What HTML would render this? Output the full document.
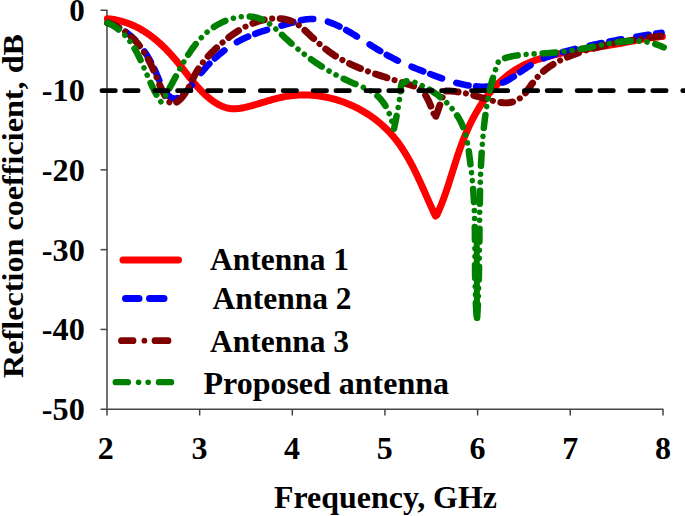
<!DOCTYPE html>
<html><head><meta charset="utf-8"><title>Reflection coefficient</title>
<style>
html,body{margin:0;padding:0;background:#fff;overflow:hidden}
body{width:685px;height:516px;position:relative;font-family:"Liberation Serif",serif}
</style></head><body>
<svg width="685" height="516" viewBox="0 0 685 516" style="position:absolute;left:0;top:0;display:block">
<defs><clipPath id="gc"><rect x="482" y="78" width="14" height="24"/></clipPath><path id="bp" d="M107.55,22.91 L109.04,23.36 L110.49,23.86 L111.93,24.39 L113.34,24.96 L114.73,25.57 L116.10,26.21 L117.45,26.88 L118.78,27.59 L120.08,28.33 L121.36,29.11 L122.62,29.91 L123.86,30.74 L125.08,31.61 L126.27,32.50 L127.45,33.42 L128.60,34.37 L129.73,35.35 L130.85,36.35 L131.94,37.37 L133.01,38.42 L134.06,39.49 L135.09,40.58 L136.10,41.70 L137.09,42.84 L138.06,43.99 L139.01,45.17 L139.94,46.36 L140.85,47.58 L141.74,48.80 L142.61,50.05 L143.46,51.31 L144.29,52.58 L145.10,53.87 L145.90,55.17 L146.67,56.48 L147.43,57.81 L148.17,59.14 L148.89,60.49 L149.59,61.84 L150.27,63.20 L150.93,64.57 L151.58,65.94 L152.22,67.33 L152.84,68.71 L153.45,70.10 L154.06,71.50 L154.66,72.90 L155.25,74.31 L155.84,75.72 L156.43,77.13 L157.02,78.54 L157.61,79.95 L158.20,81.37 L158.80,82.78 L159.41,84.20 L160.03,85.61 L160.66,87.03 L161.30,88.44 L161.96,89.85 L162.63,91.26 L163.33,92.66 L164.04,94.06 L164.77,95.45 L165.53,96.84 L166.32,98.20 L167.13,99.48 L167.98,100.65 L168.87,101.68 L169.79,102.52 L170.76,103.15 L171.78,103.52 L172.84,103.61 L173.94,103.44 L175.06,103.05 L176.19,102.47 L177.32,101.74 L178.42,100.89 L179.49,99.95 L180.52,98.95 L181.50,97.89 L182.45,96.78 L183.37,95.62 L184.25,94.41 L185.10,93.16 L185.93,91.88 L186.73,90.56 L187.51,89.21 L188.27,87.84 L189.02,86.45 L189.76,85.04 L190.49,83.62 L191.21,82.18 L191.93,80.74 L192.65,79.30 L193.38,77.87 L194.11,76.44 L194.84,75.02 L195.59,73.61 L196.35,72.23 L197.13,70.86 L197.93,69.52 L198.75,68.21 L199.60,66.93 L200.46,65.68 L201.35,64.45 L202.25,63.24 L203.17,62.05 L204.11,60.89 L205.06,59.74 L206.03,58.62 L207.02,57.51 L208.02,56.41 L209.03,55.33 L210.06,54.26 L211.10,53.20 L212.14,52.15 L213.20,51.11 L214.27,50.08 L215.35,49.05 L216.44,48.03 L217.53,47.01 L218.63,46.00 L219.74,45.00 L220.86,44.00 L221.99,43.01 L223.13,42.03 L224.28,41.05 L225.43,40.09 L226.60,39.14 L227.78,38.20 L228.96,37.28 L230.16,36.36 L231.37,35.46 L232.59,34.58 L233.82,33.71 L235.06,32.85 L236.31,32.02 L237.57,31.20 L238.85,30.40 L240.13,29.61 L241.43,28.85 L242.74,28.11 L244.06,27.38 L245.40,26.68 L246.75,26.00 L248.11,25.35 L249.48,24.72 L250.87,24.11 L252.27,23.53 L253.69,22.98 L255.11,22.45 L256.56,21.95 L258.01,21.47 L259.48,21.03 L260.97,20.62 L262.46,20.24 L263.96,19.89 L265.47,19.57 L266.98,19.30 L268.50,19.06 L270.02,18.86 L271.54,18.69 L273.06,18.58 L274.57,18.50 L276.09,18.47 L277.59,18.48 L279.09,18.54 L280.58,18.64 L282.06,18.80 L283.52,19.01 L284.97,19.27 L286.41,19.58 L287.83,19.95 L289.23,20.37 L290.61,20.86 L291.97,21.40 L293.30,22.00 L294.61,22.66 L295.89,23.39 L297.14,24.17 L298.37,25.01 L299.59,25.89 L300.78,26.82 L301.95,27.78 L303.12,28.77 L304.26,29.79 L305.40,30.83 L306.53,31.89 L307.66,32.95 L308.78,34.02 L309.89,35.09 L311.01,36.16 L312.13,37.21 L313.25,38.26 L314.37,39.31 L315.49,40.34 L316.62,41.36 L317.75,42.38 L318.89,43.38 L320.03,44.38 L321.18,45.36 L322.33,46.33 L323.49,47.29 L324.66,48.23 L325.83,49.17 L327.01,50.08 L328.21,50.99 L329.41,51.88 L330.63,52.75 L331.85,53.61 L333.09,54.44 L334.34,55.27 L335.60,56.07 L336.87,56.86 L338.15,57.64 L339.44,58.40 L340.74,59.14 L342.06,59.87 L343.38,60.58 L344.71,61.28 L346.05,61.97 L347.39,62.65 L348.75,63.31 L350.11,63.96 L351.48,64.59 L352.86,65.22 L354.24,65.83 L355.63,66.44 L357.02,67.03 L358.42,67.61 L359.83,68.18 L361.24,68.75 L362.65,69.30 L364.06,69.85 L365.48,70.39 L366.91,70.92 L368.33,71.44 L369.76,71.96 L371.19,72.47 L372.62,72.97 L374.05,73.47 L375.49,73.96 L376.92,74.44 L378.35,74.93 L379.78,75.40 L381.22,75.88 L382.65,76.35 L384.08,76.81 L385.51,77.27 L386.93,77.74 L388.36,78.19 L389.78,78.65 L391.21,79.10 L392.64,79.55 L394.06,80.00 L395.49,80.44 L396.91,80.88 L398.34,81.32 L399.76,81.76 L401.19,82.20 L402.62,82.64 L404.05,83.07 L405.48,83.50 L406.92,83.94 L408.35,84.37 L409.79,84.80 L411.23,85.22 L412.67,85.65 L414.12,86.08 L415.57,86.51 L417.02,86.93 L418.47,87.36 L419.93,87.78 L421.05,88.70 L422.03,89.95 L422.96,91.23 L423.86,92.54 L424.72,93.87 L425.55,95.23 L426.34,96.61 L427.10,98.00 L427.83,99.42 L428.53,100.85 L429.21,102.30 L429.85,103.76 L430.47,105.23 L431.06,106.72 L431.63,108.21 L432.18,109.71 L432.70,111.22 L433.21,112.73 L433.69,114.24 L434.15,115.76 L434.60,117.27 L435.03,118.78 L435.56,117.26 L436.11,115.71 L436.66,114.17 L437.21,112.62 L437.75,111.07 L438.29,109.52 L438.83,107.97 L439.37,106.42 L439.92,104.87 L440.46,103.32 L441.01,101.77 L441.56,100.23 L442.11,98.68 L442.68,97.14 L443.24,95.60 L443.82,94.06 L444.41,92.53 L445.00,91.00 L446.52,90.91 L448.02,90.96 L449.52,91.03 L451.02,91.14 L452.52,91.27 L454.02,91.42 L455.52,91.60 L457.01,91.80 L458.51,92.02 L460.00,92.27 L461.48,92.53 L462.97,92.82 L464.45,93.12 L465.92,93.44 L467.39,93.77 L468.86,94.12 L470.32,94.49 L471.78,94.86 L473.23,95.25 L474.67,95.65 L476.11,96.06 L477.55,96.48 L478.99,96.90 L480.42,97.32 L481.86,97.75 L483.30,98.17 L484.75,98.60 L486.20,99.02 L487.65,99.44 L489.12,99.85 L490.59,100.25 L492.07,100.64 L493.56,101.02 L495.07,101.38 L496.58,101.72 L498.09,102.03 L499.61,102.30 L501.13,102.52 L502.64,102.69 L504.15,102.80 L505.66,102.84 L507.15,102.81 L508.64,102.70 L510.10,102.50 L511.55,102.21 L512.98,101.83 L514.37,101.36 L515.73,100.80 L517.05,100.15 L518.31,99.41 L519.52,98.58 L520.68,97.68 L521.80,96.70 L522.87,95.66 L523.91,94.57 L524.92,93.42 L525.90,92.23 L526.86,91.00 L527.80,89.75 L528.73,88.47 L529.65,87.18 L530.57,85.89 L531.49,84.59 L532.42,83.31 L533.36,82.04 L534.32,80.79 L535.29,79.58 L536.29,78.39 L537.31,77.24 L538.36,76.12 L539.42,75.02 L540.50,73.96 L541.60,72.93 L542.73,71.93 L543.87,70.95 L545.02,70.00 L546.20,69.07 L547.39,68.18 L548.60,67.30 L549.82,66.45 L551.06,65.63 L552.32,64.82 L553.59,64.04 L554.87,63.28 L556.16,62.54 L557.47,61.83 L558.79,61.13 L560.12,60.45 L561.46,59.78 L562.81,59.14 L564.17,58.51 L565.55,57.90 L566.92,57.30 L568.31,56.72 L569.71,56.15 L571.11,55.59 L572.52,55.05 L573.93,54.52 L575.35,54.00 L576.78,53.49 L578.20,52.99 L579.64,52.50 L581.08,52.02 L582.52,51.55 L583.96,51.09 L585.41,50.64 L586.86,50.20 L588.32,49.76 L589.78,49.34 L591.24,48.92 L592.71,48.51 L594.18,48.11 L595.65,47.72 L597.13,47.34 L598.60,46.96 L600.09,46.59 L601.57,46.23 L603.05,45.88 L604.54,45.53 L606.03,45.19 L607.52,44.86 L609.01,44.53 L610.51,44.21 L612.00,43.89 L613.50,43.59 L615.00,43.28 L616.50,42.99 L618.00,42.69 L619.50,42.41 L621.00,42.13 L622.51,41.85 L624.01,41.58 L625.52,41.32 L627.02,41.05 L628.52,40.80 L630.03,40.54 L631.53,40.29 L633.04,40.05 L634.54,39.81 L636.04,39.57 L637.55,39.34 L639.05,39.10 L640.55,38.88 L642.05,38.65 L643.55,38.43 L645.05,38.21 L646.54,37.99 L648.04,37.78 L649.53,37.56 L651.02,37.35 L652.51,37.14 L654.00,36.93 L655.48,36.73 L656.97,36.52 L658.45,36.32 L659.93,36.11 L661.40,35.91 L662.88,35.71"/><path id="ga" d="M107.45,22.82 L108.95,23.51 L110.41,24.23 L111.83,25.00 L113.21,25.79 L114.55,26.62 L115.85,27.49 L117.12,28.38 L118.35,29.31 L119.55,30.27 L120.72,31.26 L121.85,32.27 L122.95,33.32 L124.02,34.39 L125.06,35.49 L126.07,36.61 L127.05,37.76 L128.01,38.93 L128.94,40.12 L129.85,41.34 L130.73,42.57 L131.59,43.83 L132.43,45.10 L133.25,46.39 L134.05,47.70 L134.84,49.02 L135.60,50.36 L136.35,51.71 L137.08,53.07 L137.80,54.45 L138.50,55.83 L139.20,57.23 L139.88,58.64 L140.55,60.05 L141.21,61.48 L141.86,62.91 L142.51,64.34 L143.15,65.78 L143.78,67.22 L144.41,68.67 L145.04,70.11 L145.66,71.56 L146.28,73.01 L146.90,74.46 L147.53,75.90 L148.15,77.34 L148.78,78.78 L149.41,80.21 L150.05,81.64 L150.69,83.06 L151.34,84.47 L151.99,85.88 L152.66,87.27 L153.33,88.66 L154.02,90.03 L154.72,91.39 L155.43,92.74 L156.15,94.08 L156.89,95.39 L157.65,96.70 L158.42,97.98 L159.21,99.25 L160.02,100.50 L160.85,101.73 L162.18,100.68 L162.95,99.45 L163.72,98.21 L164.47,96.96 L165.22,95.70 L165.97,94.43 L166.71,93.15 L167.44,91.86 L168.17,90.56 L168.90,89.25 L169.62,87.94 L170.34,86.62 L171.06,85.30 L171.78,83.97 L172.50,82.64 L173.21,81.30 L173.93,79.96 L174.65,78.62 L175.36,77.27 L176.08,75.93 L176.80,74.58 L177.53,73.23 L178.25,71.89 L178.99,70.54 L179.72,69.20 L180.46,67.86 L181.20,66.52 L181.95,65.19 L182.71,63.86 L183.47,62.54 L184.24,61.22 L185.02,59.91 L185.81,58.61 L186.60,57.31 L187.41,56.02 L188.22,54.74 L189.04,53.47 L189.88,52.21 L190.73,50.96 L191.58,49.72 L192.46,48.49 L193.34,47.28 L194.24,46.08 L195.15,44.89 L196.07,43.72 L197.01,42.56 L197.97,41.42 L198.94,40.29 L199.93,39.18 L200.93,38.09 L201.95,37.02 L203.00,35.97 L204.05,34.93 L205.13,33.92 L206.23,32.92 L207.35,31.95 L208.49,31.00 L209.65,30.07 L210.83,29.16 L212.03,28.28 L213.26,27.43 L214.51,26.59 L215.78,25.79 L217.08,25.01 L218.40,24.26 L219.75,23.53 L221.12,22.83 L222.51,22.17 L223.93,21.53 L225.37,20.92 L226.82,20.35 L228.29,19.81 L229.78,19.31 L231.27,18.85 L232.78,18.42 L234.30,18.03 L235.82,17.68 L237.35,17.37 L238.88,17.11 L240.41,16.89 L241.94,16.71 L243.47,16.58 L244.99,16.50 L246.51,16.46 L248.02,16.48 L249.52,16.54 L251.00,16.66 L252.48,16.83 L253.94,17.06 L255.38,17.34 L256.80,17.68 L258.20,18.08 L259.57,18.53 L260.93,19.05 L262.25,19.62 L263.56,20.25 L264.84,20.93 L266.10,21.66 L267.34,22.44 L268.57,23.26 L269.78,24.12 L270.97,25.01 L272.15,25.94 L273.31,26.89 L274.47,27.88 L275.62,28.88 L276.75,29.90 L277.89,30.94 L279.01,31.99 L280.14,33.05 L281.26,34.12 L282.37,35.19 L283.49,36.26 L284.61,37.32 L285.74,38.38 L286.87,39.43 L288.00,40.47 L289.13,41.50 L290.27,42.53 L291.41,43.55 L292.56,44.55 L293.71,45.55 L294.86,46.55 L296.02,47.53 L297.18,48.50 L298.35,49.47 L299.52,50.43 L300.69,51.38 L301.87,52.32 L303.06,53.26 L304.24,54.18 L305.43,55.10 L306.63,56.01 L307.83,56.91 L309.03,57.80 L310.24,58.68 L311.46,59.56 L312.68,60.43 L313.90,61.29 L315.13,62.14 L316.36,62.98 L317.60,63.81 L318.84,64.64 L320.09,65.45 L321.35,66.26 L322.61,67.06 L323.87,67.85 L325.14,68.64 L326.41,69.41 L327.69,70.18 L328.98,70.94 L330.27,71.68 L331.56,72.43 L332.86,73.16 L334.17,73.88 L335.48,74.60 L336.80,75.30 L338.13,76.00 L339.46,76.69 L340.79,77.37 L342.14,78.05 L343.48,78.71 L344.84,79.36 L346.20,80.01 L347.56,80.65 L348.94,81.28 L350.32,81.90 L351.70,82.51 L353.09,83.12 L354.49,83.71 L355.90,84.30 L357.31,84.88 L358.72,85.45 L360.13,86.03 L361.54,86.61 L362.94,87.20 L364.33,87.81 L365.70,88.43 L367.06,89.08 L368.40,89.76 L369.71,90.47 L370.99,91.21 L372.25,92.00 L373.47,92.82 L374.66,93.69 L375.82,94.59 L376.94,95.54 L378.03,96.52 L379.08,97.54 L380.10,98.61 L381.08,99.71 L382.03,100.86 L382.93,102.04 L383.80,103.26 L384.63,104.52 L385.42,105.81 L386.18,107.14 L386.90,108.49 L387.59,109.87 L388.24,111.28 L388.87,112.70 L389.46,114.14 L390.02,115.60 L390.55,117.07 L391.06,118.55 L391.53,120.04 L391.98,121.54 L392.41,123.03 L392.81,124.53 L393.19,126.02 L393.54,127.50 L393.88,128.98 L394.33,127.23 L394.65,125.65 L394.98,124.08 L395.30,122.51 L395.62,120.93 L395.94,119.35 L396.25,117.78 L396.56,116.20 L396.87,114.62 L397.17,113.04 L397.46,111.46 L397.75,109.88 L398.03,108.30 L398.31,106.72 L398.57,105.13 L398.83,103.54 L399.08,101.96 L399.33,100.37 L399.56,98.78 L399.78,97.19 L399.99,95.59 L400.19,94.00 L400.38,92.40 L400.55,90.81 L400.72,89.21 L400.86,87.60 L401.00,86.00 L401.73,84.23 L402.79,83.15 L403.91,82.31 L405.09,81.69 L406.31,81.27 L407.57,81.05 L408.87,80.99 L410.21,81.09 L411.57,81.32 L412.95,81.66 L414.35,82.11 L415.76,82.63 L417.18,83.22 L418.60,83.86 L420.01,84.53 L421.41,85.21 L422.80,85.91 L424.18,86.62 L425.55,87.35 L426.91,88.10 L428.26,88.86 L429.59,89.65 L430.91,90.44 L432.21,91.26 L433.50,92.10 L434.77,92.95 L436.03,93.83 L437.27,94.72 L438.49,95.63 L439.69,96.57 L440.88,97.52 L442.05,98.49 L443.19,99.47 L444.32,100.48 L445.43,101.50 L446.51,102.54 L447.58,103.61 L448.62,104.68 L449.64,105.78 L450.64,106.89 L451.61,108.02 L452.56,109.17 L453.49,110.33 L454.39,111.52 L455.26,112.71 L456.11,113.93 L456.93,115.16 L457.73,116.41 L458.50,117.67 L459.24,118.95 L459.95,120.25 L460.63,121.56 L461.29,122.89 L461.91,124.23 L462.50,125.59 L463.06,126.96 L463.59,128.35 L464.09,129.75 L464.56,131.17 L465.01,132.60 L465.42,134.04 L465.81,135.49 L466.18,136.95 L466.52,138.42 L466.85,139.90 L467.15,141.39 L467.44,142.89 L467.71,144.39 L467.97,145.89 L468.21,147.40 L468.44,148.92 L468.66,150.43 L468.88,151.95 L469.08,153.47 L469.28,154.98 L469.47,156.50 L469.66,158.02 L469.85,159.53 L470.04,161.04 L470.23,162.54 L470.42,164.04 L470.61,165.54 L470.79,167.04 L470.98,168.53 L471.16,170.03 L471.34,171.52 L471.52,173.01 L471.69,174.49 L471.86,175.98 L472.03,177.47 L472.19,178.96 L472.35,180.45 L472.50,181.94 L472.64,183.43 L472.78,184.92 L472.91,186.41 L473.03,187.91 L473.16,189.40 L473.27,190.90 L473.38,192.39 L473.49,193.89 L473.59,195.39 L473.68,196.89 L473.77,198.39 L473.86,199.89 L473.94,201.39 L474.02,202.89 L474.09,204.40 L474.16,205.90 L474.23,207.41 L474.29,208.91 L474.35,210.42 L474.40,211.92 L474.45,213.43 L474.50,214.94 L474.55,216.45 L474.59,217.95 L474.63,219.46 L474.66,220.97 L474.69,222.48 L474.72,223.99 L474.75,225.50 L474.78,227.01 L474.80,228.53 L474.82,230.04 L474.84,231.55 L474.86,233.06 L474.87,234.57 L474.89,236.09 L474.90,237.60 L474.91,239.11 L474.92,240.63 L474.93,242.14 L474.94,243.65 L474.94,245.17 L474.95,246.68 L474.96,248.19 L474.96,249.71 L474.97,251.22 L474.97,252.74 L474.98,254.25 L474.98,255.76 L474.99,257.28 L474.99,258.79 L475.00,260.30 L475.00,261.82 L475.01,263.33 L475.02,264.84 L475.02,266.35 L475.03,267.87 L475.04,269.38 L475.05,270.89 L475.07,272.40 L475.08,273.91 L475.10,275.42 L475.12,276.93 L475.14,278.44 L475.16,279.95 L475.18,281.46 L475.21,282.97 L475.24,284.48 L475.27,285.98 L475.30,287.49 L475.34,289.00 L475.38,290.50 L475.42,292.01 L475.46,293.51 L475.51,295.02 L475.56,296.52 L475.62,298.02 L475.68,299.52 L475.74,301.02 L475.81,302.52 L475.88,304.02 L475.95,305.52 L476.03,307.02 L476.12,308.51 L476.20,310.01 L476.30,311.50 L476.39,313.00 L476.50,314.49 L476.60,315.98 L476.72,317.47 L476.83,318.96"/><path id="gb" d="M477.07,318.94 L477.17,317.44 L477.27,315.95 L477.36,314.45 L477.46,312.96 L477.54,311.46 L477.63,309.96 L477.71,308.47 L477.79,306.97 L477.87,305.47 L477.94,303.97 L478.01,302.47 L478.08,300.97 L478.15,299.47 L478.21,297.97 L478.28,296.47 L478.33,294.97 L478.39,293.47 L478.45,291.97 L478.50,290.46 L478.55,288.96 L478.60,287.45 L478.64,285.95 L478.69,284.45 L478.73,282.94 L478.77,281.44 L478.81,279.93 L478.85,278.42 L478.88,276.92 L478.92,275.41 L478.95,273.90 L478.98,272.40 L479.01,270.89 L479.04,269.38 L479.07,267.87 L479.09,266.36 L479.12,264.85 L479.14,263.34 L479.16,261.83 L479.18,260.32 L479.20,258.81 L479.22,257.30 L479.24,255.79 L479.26,254.28 L479.28,252.77 L479.29,251.26 L479.31,249.75 L479.33,248.23 L479.34,246.72 L479.35,245.21 L479.37,243.70 L479.38,242.19 L479.39,240.67 L479.41,239.16 L479.42,237.65 L479.43,236.13 L479.45,234.62 L479.46,233.11 L479.47,231.59 L479.49,230.08 L479.50,228.57 L479.51,227.05 L479.53,225.54 L479.54,224.03 L479.56,222.51 L479.57,221.00 L479.59,219.48 L479.60,217.97 L479.62,216.46 L479.64,214.94 L479.66,213.43 L479.67,211.91 L479.69,210.40 L479.72,208.89 L479.74,207.37 L479.76,205.86 L479.79,204.34 L479.81,202.83 L479.84,201.32 L479.87,199.80 L479.89,198.29 L479.93,196.78 L479.96,195.26 L479.99,193.75 L480.03,192.24 L480.06,190.72 L480.10,189.21 L480.14,187.70 L480.19,186.19 L480.23,184.67 L480.28,183.16 L480.32,181.65 L480.37,180.14 L480.43,178.63 L480.48,177.11 L480.54,175.60 L480.60,174.09 L480.66,172.58 L480.72,171.07 L480.79,169.56 L480.86,168.05 L480.93,166.54 L481.00,165.03 L481.08,163.52 L481.16,162.01 L481.24,160.50 L481.32,159.00 L481.41,157.49 L481.50,155.98 L481.59,154.47 L481.69,152.97 L481.79,151.46 L481.89,149.95 L482.00,148.45 L482.11,146.94 L482.22,145.44 L482.34,143.93 L482.46,142.43 L482.58,140.92 L482.71,139.42 L482.84,137.92 L482.98,136.41 L483.12,134.91 L483.26,133.41 L483.40,131.91 L483.56,130.41 L483.71,128.91 L483.87,127.41 L484.04,125.91 L484.21,124.41 L484.38,122.92 L484.56,121.42 L484.75,119.93 L484.94,118.43 L485.14,116.94 L485.34,115.45 L485.55,113.96 L485.76,112.47 L485.98,110.98 L486.21,109.50 L486.45,108.01 L486.69,106.53 L486.94,105.04 L487.20,103.56 L487.46,102.08 L487.73,100.61 L488.01,99.13 L488.30,97.66 L488.59,96.18 L488.89,94.71 L489.20,93.24 L489.52,91.78 L489.85,90.31 L490.19,88.85 L490.53,87.39 L490.89,85.93 L491.25,84.47 L491.63,83.02 L492.01,81.57 L492.40,80.12 L492.81,78.67 L493.22,77.22 L493.64,75.78 L494.08,74.34 L494.52,72.90 L494.98,71.47 L495.44,70.03 L495.92,68.60 L496.41,67.18 L496.91,65.75 L497.42,64.33 L497.94,62.91 L498.48,61.50 L499.02,60.08 L501.21,59.42 L502.60,58.90 L504.00,58.42 L505.42,57.97 L506.84,57.56 L508.28,57.17 L509.72,56.82 L511.17,56.49 L512.63,56.19 L514.10,55.91 L515.58,55.66 L517.06,55.43 L518.55,55.22 L520.04,55.03 L521.54,54.86 L523.05,54.70 L524.55,54.56 L526.07,54.43 L527.58,54.31 L529.10,54.20 L530.62,54.10 L532.14,54.00 L533.66,53.92 L535.19,53.83 L536.71,53.75 L538.23,53.67 L539.76,53.59 L541.28,53.50 L542.80,53.41 L544.31,53.32 L545.83,53.22 L547.34,53.12 L548.85,53.00 L550.36,52.89 L551.86,52.76 L553.37,52.63 L554.87,52.49 L556.37,52.35 L557.87,52.19 L559.36,52.03 L560.86,51.87 L562.35,51.70 L563.85,51.52 L565.34,51.33 L566.83,51.14 L568.33,50.94 L569.82,50.73 L571.31,50.52 L572.80,50.30 L574.29,50.07 L575.78,49.83 L577.27,49.59 L578.76,49.34 L580.26,49.09 L581.75,48.82 L583.25,48.55 L584.74,48.27 L586.24,47.98 L587.73,47.69 L589.23,47.40 L590.73,47.09 L592.23,46.79 L593.73,46.48 L595.23,46.18 L596.74,45.87 L598.24,45.56 L599.74,45.26 L601.25,44.95 L602.75,44.65 L604.25,44.36 L605.76,44.07 L607.26,43.79 L608.76,43.51 L610.27,43.25 L611.77,42.99 L613.27,42.74 L614.78,42.51 L616.28,42.28 L617.78,42.07 L619.28,41.88 L620.78,41.70 L622.28,41.53 L623.78,41.39 L625.28,41.26 L626.78,41.15 L628.27,41.06 L629.77,40.99 L631.26,40.94 L632.75,40.92 L634.25,40.92 L635.74,40.94 L637.22,40.99 L638.71,41.07 L640.20,41.17 L641.68,41.31 L643.16,41.47 L644.64,41.66 L646.12,41.89 L647.60,42.15 L649.07,42.44 L650.54,42.76 L652.01,43.13 L653.48,43.52 L654.94,43.96 L656.40,44.43 L657.86,44.94 L659.32,45.50 L660.77,46.09 L662.23,46.73 L663.67,47.41"/></defs>
<rect width="685" height="516" fill="#fff"/>
<g fill="none" stroke="#444444" stroke-width="1.5" stroke-linejoin="round" stroke-linecap="butt">
<path d="M100.5,10.3 H107 V415.5"/>
<path d="M100.5,409.2 H663 V415.5"/>
<path d="M100.5,90.08 H107"/>
<path d="M100.5,169.86 H107"/>
<path d="M100.5,249.64 H107"/>
<path d="M100.5,329.42 H107"/>
<path d="M199.65,409.2 V415.5"/>
<path d="M292.30,409.2 V415.5"/>
<path d="M384.95,409.2 V415.5"/>
<path d="M477.60,409.2 V415.5"/>
<path d="M570.25,409.2 V415.5"/>
</g>
<g fill="none" stroke-linecap="round" stroke-linejoin="round">
<path d="M107.39,18.72 L108.99,18.88 L110.57,19.07 L112.13,19.29 L113.69,19.53 L115.22,19.81 L116.74,20.11 L118.25,20.44 L119.74,20.80 L121.22,21.18 L122.68,21.59 L124.13,22.03 L125.56,22.49 L126.98,22.98 L128.39,23.49 L129.78,24.03 L131.16,24.58 L132.53,25.17 L133.89,25.77 L135.23,26.40 L136.56,27.05 L137.87,27.72 L139.18,28.42 L140.47,29.13 L141.75,29.87 L143.02,30.62 L144.27,31.40 L145.52,32.19 L146.75,33.01 L147.98,33.84 L149.19,34.69 L150.39,35.56 L151.58,36.45 L152.76,37.35 L153.93,38.27 L155.09,39.21 L156.23,40.16 L157.37,41.13 L158.50,42.11 L159.62,43.11 L160.73,44.12 L161.83,45.15 L162.93,46.19 L164.01,47.24 L165.08,48.31 L166.15,49.39 L167.21,50.48 L168.25,51.58 L169.29,52.70 L170.33,53.82 L171.35,54.95 L172.37,56.10 L173.38,57.25 L174.38,58.42 L175.38,59.59 L176.36,60.77 L177.35,61.96 L178.32,63.16 L179.29,64.36 L180.26,65.57 L181.22,66.78 L182.18,67.99 L183.14,69.21 L184.09,70.42 L185.05,71.64 L186.00,72.86 L186.96,74.08 L187.91,75.29 L188.87,76.50 L189.83,77.71 L190.80,78.91 L191.77,80.10 L192.74,81.29 L193.72,82.47 L194.71,83.64 L195.70,84.80 L196.70,85.94 L197.71,87.08 L198.73,88.21 L199.76,89.32 L200.80,90.41 L201.85,91.49 L202.92,92.56 L203.99,93.60 L205.08,94.63 L206.19,95.64 L207.31,96.63 L208.44,97.59 L209.60,98.54 L210.76,99.46 L211.95,100.35 L213.15,101.22 L214.37,102.05 L215.61,102.85 L216.87,103.62 L218.13,104.34 L219.42,105.02 L220.72,105.65 L222.04,106.23 L223.37,106.76 L224.72,107.23 L226.08,107.65 L227.45,108.00 L228.84,108.29 L230.25,108.51 L231.67,108.66 L233.10,108.74 L234.54,108.76 L236.00,108.71 L237.46,108.61 L238.93,108.45 L240.41,108.25 L241.89,108.00 L243.38,107.72 L244.87,107.41 L246.36,107.06 L247.85,106.70 L249.33,106.31 L250.82,105.92 L252.30,105.51 L253.78,105.09 L255.25,104.67 L256.72,104.24 L258.19,103.80 L259.66,103.36 L261.12,102.92 L262.59,102.47 L264.05,102.03 L265.51,101.59 L266.97,101.15 L268.43,100.72 L269.90,100.29 L271.36,99.87 L272.82,99.46 L274.28,99.06 L275.75,98.67 L277.22,98.30 L278.69,97.94 L280.16,97.60 L281.63,97.27 L283.11,96.96 L284.59,96.68 L286.07,96.41 L287.56,96.17 L289.04,95.95 L290.54,95.75 L292.03,95.57 L293.53,95.42 L295.03,95.29 L296.53,95.17 L298.04,95.08 L299.54,95.02 L301.05,94.97 L302.55,94.94 L304.06,94.94 L305.57,94.95 L307.08,94.99 L308.58,95.05 L310.09,95.12 L311.60,95.22 L313.10,95.34 L314.61,95.48 L316.11,95.64 L317.61,95.82 L319.11,96.01 L320.61,96.23 L322.11,96.47 L323.60,96.73 L325.09,97.00 L326.57,97.30 L328.06,97.62 L329.54,97.95 L331.01,98.30 L332.48,98.67 L333.95,99.06 L335.41,99.47 L336.87,99.90 L338.32,100.35 L339.77,100.81 L341.21,101.29 L342.64,101.79 L344.07,102.31 L345.49,102.84 L346.90,103.40 L348.31,103.97 L349.71,104.56 L351.11,105.16 L352.49,105.78 L353.87,106.42 L355.24,107.08 L356.60,107.75 L357.95,108.44 L359.29,109.15 L360.62,109.87 L361.95,110.61 L363.26,111.36 L364.57,112.14 L365.86,112.92 L367.14,113.73 L368.41,114.55 L369.68,115.38 L370.92,116.23 L372.16,117.10 L373.39,117.98 L374.60,118.87 L375.80,119.78 L376.99,120.71 L378.17,121.65 L379.33,122.61 L380.48,123.58 L381.62,124.56 L382.74,125.56 L383.85,126.57 L384.94,127.60 L386.02,128.64 L387.08,129.70 L388.13,130.76 L389.17,131.85 L390.18,132.94 L391.19,134.05 L392.17,135.18 L393.14,136.31 L394.10,137.46 L395.04,138.62 L395.97,139.79 L396.88,140.97 L397.78,142.17 L398.67,143.37 L399.54,144.59 L400.40,145.81 L401.25,147.05 L402.09,148.30 L402.91,149.55 L403.73,150.81 L404.53,152.09 L405.32,153.37 L406.10,154.66 L406.87,155.95 L407.63,157.26 L408.38,158.57 L409.12,159.89 L409.86,161.21 L410.58,162.54 L411.30,163.88 L412.01,165.22 L412.71,166.57 L413.40,167.92 L414.09,169.28 L414.77,170.64 L415.44,172.01 L416.11,173.38 L416.77,174.75 L417.42,176.13 L418.07,177.51 L418.72,178.89 L419.36,180.27 L420.00,181.66 L420.63,183.04 L421.26,184.43 L421.88,185.82 L422.51,187.21 L423.13,188.60 L423.74,189.99 L424.36,191.38 L424.97,192.77 L425.59,194.16 L426.20,195.55 L426.81,196.93 L427.42,198.32 L428.03,199.70 L428.64,201.08 L429.25,202.45 L429.86,203.82 L430.47,205.19 L431.09,206.56 L431.70,207.92 L432.32,209.28 L432.94,210.63 L433.56,211.98 L434.19,213.32 L434.82,214.66 L435.45,215.99 L436.87,215.01 L437.50,213.63 L438.12,212.24 L438.73,210.86 L439.32,209.46 L439.91,208.07 L440.48,206.67 L441.05,205.28 L441.60,203.87 L442.15,202.47 L442.68,201.07 L443.21,199.66 L443.73,198.25 L444.24,196.84 L444.75,195.42 L445.25,194.01 L445.74,192.59 L446.23,191.17 L446.71,189.75 L447.19,188.33 L447.66,186.91 L448.13,185.49 L448.59,184.06 L449.05,182.64 L449.51,181.21 L449.96,179.78 L450.41,178.35 L450.86,176.92 L451.31,175.49 L451.76,174.06 L452.21,172.63 L452.65,171.20 L453.10,169.77 L453.55,168.34 L454.00,166.91 L454.45,165.48 L454.90,164.04 L455.36,162.61 L455.82,161.18 L456.28,159.75 L456.74,158.32 L457.21,156.89 L457.68,155.46 L458.16,154.04 L458.64,152.61 L459.13,151.18 L459.63,149.76 L460.13,148.33 L460.63,146.91 L461.15,145.49 L461.67,144.07 L462.20,142.65 L462.74,141.23 L463.29,139.81 L463.85,138.40 L464.42,136.99 L464.99,135.58 L465.58,134.17 L466.18,132.76 L466.78,131.36 L467.40,129.96 L468.03,128.57 L468.67,127.17 L469.32,125.79 L469.98,124.40 L470.65,123.02 L471.33,121.65 L472.03,120.28 L472.73,118.92 L473.44,117.57 L474.17,116.22 L474.91,114.87 L475.66,113.54 L476.42,112.21 L477.19,110.89 L477.98,109.58 L478.77,108.27 L479.58,106.98 L480.40,105.69 L481.23,104.41 L482.07,103.14 L482.93,101.89 L483.80,100.64 L484.68,99.40 L485.57,98.17 L486.48,96.96 L487.40,95.75 L488.33,94.56 L489.28,93.38 L490.23,92.21 L491.20,91.06 L492.19,89.92 L493.18,88.79 L494.19,87.67 L495.22,86.57 L496.26,85.49 L497.31,84.41 L498.37,83.36 L499.45,82.31 L500.54,81.29 L501.65,80.28 L502.77,79.28 L503.90,78.31 L505.05,77.35 L506.21,76.40 L507.38,75.48 L508.57,74.57 L509.77,73.68 L510.98,72.81 L512.20,71.95 L513.44,71.12 L514.69,70.30 L515.95,69.51 L517.22,68.73 L518.51,67.98 L519.80,67.25 L521.11,66.53 L522.43,65.84 L523.76,65.17 L525.10,64.52 L526.45,63.89 L527.81,63.29 L529.18,62.70 L530.56,62.13 L531.95,61.57 L533.35,61.04 L534.75,60.52 L536.16,60.02 L537.58,59.53 L539.00,59.06 L540.43,58.60 L541.87,58.16 L543.31,57.73 L544.76,57.31 L546.21,56.90 L547.66,56.51 L549.12,56.12 L550.58,55.74 L552.04,55.38 L553.51,55.02 L554.98,54.68 L556.45,54.34 L557.93,54.01 L559.41,53.69 L560.89,53.37 L562.38,53.07 L563.86,52.77 L565.35,52.48 L566.84,52.19 L568.34,51.91 L569.83,51.64 L571.33,51.37 L572.82,51.11 L574.32,50.85 L575.82,50.60 L577.33,50.34 L578.83,50.10 L580.33,49.85 L581.84,49.61 L583.34,49.38 L584.85,49.14 L586.36,48.91 L587.86,48.68 L589.37,48.44 L590.88,48.21 L592.38,47.98 L593.89,47.75 L595.39,47.52 L596.90,47.29 L598.40,47.06 L599.91,46.83 L601.41,46.60 L602.91,46.36 L604.42,46.12 L605.92,45.88 L607.41,45.64 L608.91,45.39 L610.41,45.14 L611.90,44.88 L613.39,44.62 L614.88,44.36 L616.37,44.09 L617.86,43.82 L619.34,43.54 L620.82,43.26 L622.30,42.98 L623.78,42.70 L625.26,42.41 L626.74,42.13 L628.22,41.84 L629.70,41.55 L631.17,41.27 L632.65,40.98 L634.13,40.70 L635.60,40.42 L637.08,40.15 L638.56,39.88 L640.04,39.61 L641.51,39.35 L642.99,39.09 L644.48,38.84 L645.96,38.59 L647.44,38.35 L648.93,38.12 L650.42,37.90 L651.91,37.69 L653.40,37.48 L654.89,37.29 L656.39,37.10 L657.89,36.93 L659.39,36.77 L660.90,36.62 L662.40,36.48" stroke="#ff0000" stroke-width="7"/>
<path d="M107.57,22.83 L109.07,23.34 L110.56,23.89 L112.01,24.46 L113.45,25.07 L114.85,25.69 L116.23,26.35 L117.59,27.03 L118.92,27.73 L120.23,28.46 L121.52,29.22 L122.78,30.00 L124.02,30.81 L125.23,31.64 L126.43,32.49 L127.60,33.37 L128.75,34.27 L129.88,35.19 L130.99,36.14 L132.08,37.10 L133.14,38.10 L134.19,39.11 L135.22,40.14 L136.23,41.19 L137.22,42.27 L138.20,43.36 L139.15,44.48 L140.09,45.62 L141.01,46.77 L141.91,47.94 L142.80,49.14 L143.67,50.35 L144.53,51.58 L145.37,52.82 L146.19,54.09 L147.00,55.37 L147.80,56.67 L148.58,57.98 L149.35,59.32 L150.10,60.66 L150.84,62.03 L151.57,63.41 L152.29,64.80 L152.99,66.21 L153.68,67.63 L154.37,69.07 L155.04,70.52 L155.70,71.98 L156.35,73.46 L156.99,74.95 L157.62,76.45 L158.25,77.96 L158.87,79.46 L159.51,80.96 L160.15,82.45 L160.80,83.91 L161.47,85.36 L162.17,86.77 L162.89,88.14 L163.64,89.47 L164.43,90.76 L165.26,91.99 L166.13,93.15 L167.05,94.25 L168.02,95.27 L169.02,96.19 L170.06,96.99 L171.12,97.65 L172.21,98.16 L173.30,98.49 L174.41,98.64 L175.52,98.61 L176.63,98.41 L177.74,98.06 L178.86,97.56 L179.98,96.93 L181.10,96.18 L182.21,95.32 L183.32,94.37 L184.43,93.32 L185.52,92.21 L186.62,91.03 L187.70,89.81 L188.77,88.54 L189.83,87.25 L190.87,85.94 L191.91,84.63 L192.92,83.32 L193.92,82.04 L194.90,80.77 L195.87,79.53 L196.83,78.30 L197.78,77.10 L198.73,75.91 L199.67,74.74 L200.61,73.58 L201.54,72.44 L202.49,71.31 L203.43,70.19 L204.39,69.08 L205.35,67.98 L206.33,66.90 L207.32,65.82 L208.32,64.74 L209.35,63.68 L210.39,62.62 L211.44,61.57 L212.51,60.53 L213.60,59.49 L214.70,58.47 L215.81,57.46 L216.94,56.46 L218.09,55.47 L219.24,54.49 L220.41,53.52 L221.59,52.57 L222.79,51.63 L223.99,50.70 L225.21,49.79 L226.44,48.89 L227.68,48.01 L228.93,47.15 L230.19,46.30 L231.46,45.46 L232.73,44.65 L234.02,43.85 L235.32,43.07 L236.62,42.31 L237.93,41.57 L239.25,40.85 L240.58,40.15 L241.91,39.47 L243.25,38.81 L244.60,38.17 L245.95,37.55 L247.31,36.94 L248.68,36.36 L250.05,35.78 L251.43,35.23 L252.81,34.69 L254.20,34.16 L255.59,33.64 L256.99,33.14 L258.40,32.65 L259.81,32.16 L261.22,31.69 L262.64,31.23 L264.06,30.78 L265.49,30.33 L266.92,29.89 L268.36,29.46 L269.80,29.03 L271.24,28.60 L272.69,28.18 L274.14,27.76 L275.59,27.35 L277.05,26.93 L278.51,26.52 L279.97,26.11 L281.44,25.69 L282.91,25.27 L284.38,24.85 L285.85,24.43 L287.33,24.00 L288.81,23.57 L290.29,23.14 L291.77,22.71 L293.25,22.28 L294.73,21.86 L296.21,21.46 L297.70,21.08 L299.18,20.71 L300.66,20.37 L302.14,20.06 L303.62,19.78 L305.10,19.54 L306.57,19.33 L308.04,19.17 L309.51,19.06 L310.98,19.00 L312.44,18.99 L313.90,19.03 L315.36,19.11 L316.81,19.25 L318.26,19.43 L319.70,19.65 L321.14,19.92 L322.57,20.23 L324.01,20.57 L325.43,20.95 L326.85,21.37 L328.27,21.83 L329.68,22.31 L331.09,22.83 L332.50,23.37 L333.89,23.95 L335.29,24.55 L336.67,25.17 L338.05,25.82 L339.43,26.48 L340.80,27.17 L342.17,27.88 L343.53,28.60 L344.88,29.34 L346.23,30.09 L347.57,30.85 L348.90,31.63 L350.23,32.41 L351.55,33.19 L352.87,33.99 L354.17,34.78 L355.48,35.58 L356.77,36.38 L358.06,37.18 L359.34,37.99 L360.62,38.79 L361.89,39.59 L363.16,40.39 L364.43,41.19 L365.69,41.99 L366.95,42.79 L368.21,43.58 L369.47,44.37 L370.72,45.16 L371.98,45.95 L373.23,46.74 L374.49,47.52 L375.74,48.30 L377.00,49.07 L378.26,49.84 L379.52,50.60 L380.79,51.36 L382.05,52.11 L383.33,52.86 L384.60,53.60 L385.88,54.34 L387.17,55.06 L388.46,55.78 L389.76,56.50 L391.07,57.20 L392.38,57.90 L393.70,58.59 L395.03,59.27 L396.37,59.94 L397.72,60.60 L399.08,61.25 L400.45,61.90 L401.82,62.53 L403.20,63.16 L404.59,63.77 L405.99,64.38 L407.39,64.99 L408.80,65.58 L410.21,66.17 L411.62,66.76 L413.04,67.33 L414.46,67.91 L415.88,68.47 L417.31,69.04 L418.73,69.59 L420.15,70.15 L421.58,70.70 L423.00,71.25 L424.42,71.79 L425.84,72.33 L427.26,72.87 L428.67,73.41 L430.08,73.95 L431.48,74.48 L432.89,75.02 L434.29,75.54 L435.69,76.06 L437.09,76.58 L438.49,77.09 L439.89,77.60 L441.28,78.10 L442.68,78.59 L444.09,79.07 L445.49,79.54 L446.89,80.01 L448.30,80.46 L449.71,80.91 L451.12,81.34 L452.54,81.76 L453.96,82.17 L455.39,82.56 L456.82,82.94 L458.26,83.31 L459.71,83.67 L461.16,84.00 L462.62,84.32 L464.08,84.63 L465.56,84.92 L467.04,85.19 L468.53,85.44 L470.04,85.67 L471.55,85.88 L473.07,86.08 L474.60,86.25 L476.14,86.40 L477.69,86.52 L479.23,86.61 L480.78,86.68 L482.33,86.71 L483.87,86.71 L485.41,86.67 L486.94,86.59 L488.47,86.47 L489.98,86.31 L491.47,86.11 L492.95,85.86 L494.41,85.55 L495.86,85.20 L497.28,84.80 L498.68,84.35 L500.06,83.85 L501.42,83.31 L502.77,82.73 L504.11,82.12 L505.42,81.46 L506.73,80.78 L508.02,80.06 L509.31,79.32 L510.58,78.55 L511.85,77.76 L513.11,76.95 L514.36,76.13 L515.61,75.29 L516.85,74.44 L518.09,73.58 L519.33,72.72 L520.57,71.85 L521.81,70.98 L523.05,70.11 L524.30,69.25 L525.55,68.40 L526.81,67.55 L528.07,66.72 L529.34,65.90 L530.62,65.10 L531.91,64.32 L533.21,63.56 L534.52,62.83 L535.84,62.12 L537.17,61.43 L538.52,60.77 L539.87,60.13 L541.24,59.51 L542.61,58.91 L543.99,58.32 L545.38,57.76 L546.78,57.21 L548.19,56.69 L549.60,56.17 L551.02,55.67 L552.45,55.19 L553.88,54.72 L555.32,54.26 L556.76,53.82 L558.21,53.39 L559.66,52.96 L561.11,52.55 L562.57,52.15 L564.03,51.75 L565.49,51.36 L566.96,50.98 L568.42,50.61 L569.89,50.24 L571.36,49.87 L572.82,49.51 L574.29,49.15 L575.76,48.80 L577.23,48.44 L578.69,48.10 L580.16,47.75 L581.63,47.41 L583.10,47.07 L584.57,46.74 L586.04,46.40 L587.51,46.08 L588.98,45.75 L590.45,45.43 L591.92,45.11 L593.39,44.79 L594.86,44.48 L596.33,44.17 L597.80,43.86 L599.27,43.56 L600.74,43.26 L602.21,42.96 L603.68,42.66 L605.16,42.37 L606.63,42.08 L608.10,41.79 L609.58,41.50 L611.05,41.22 L612.53,40.94 L614.00,40.66 L615.48,40.39 L616.95,40.12 L618.43,39.85 L619.91,39.58 L621.38,39.31 L622.86,39.05 L624.34,38.79 L625.82,38.53 L627.30,38.27 L628.78,38.02 L630.26,37.76 L631.74,37.51 L633.22,37.26 L634.70,37.02 L636.19,36.77 L637.67,36.53 L639.15,36.29 L640.64,36.05 L642.12,35.81 L643.61,35.57 L645.10,35.34 L646.58,35.11 L648.07,34.88 L649.56,34.65 L651.05,34.42 L652.54,34.19 L654.03,33.97 L655.52,33.74 L657.02,33.52 L658.51,33.30 L660.00,33.08 L661.50,32.86" stroke="#0000ff" stroke-width="6.6" stroke-dasharray="12.5 7.6 12.5 15"/>
<use href="#bp" stroke="#7f0000" stroke-width="6.9" stroke-dasharray="12 16"/>
<use href="#bp" stroke="#7f0000" stroke-width="6.1" stroke-dasharray="0.01 27.99" stroke-dashoffset="8"/>
<use href="#ga" stroke="#008000" stroke-width="6.5" stroke-dasharray="13 25"/>
<use href="#ga" stroke="#008000" stroke-width="5.6" stroke-dasharray="0.01 7.99 0.01 29.99" stroke-dashoffset="16.5"/>
<use href="#gb" stroke="#008000" stroke-width="6.5" stroke-dasharray="13 25" stroke-dashoffset="36.76"/>
<use href="#gb" stroke="#008000" stroke-width="5.6" stroke-dasharray="0.01 7.99 0.01 29.99" stroke-dashoffset="15.26"/>
<path d="M476.7,236 L477,318" stroke="#008000" stroke-width="6"/>
<path d="M101.9,90.7 H690" stroke="#000" stroke-width="4.7" stroke-dasharray="13.5 9.3 13.5 16.5"/>
<g clip-path="url(#gc)"><use href="#gb" stroke="#008000" stroke-width="6.5" stroke-dasharray="13 25" stroke-dashoffset="36.76"/><use href="#gb" stroke="#008000" stroke-width="5.6" stroke-dasharray="0.01 7.99 0.01 29.99" stroke-dashoffset="15.26"/></g>
<path d="M123,259.9 H178.5" stroke="#ff0000" stroke-width="7"/>
<path d="M125.5,298.5 H171" stroke="#0000ff" stroke-width="7" stroke-dasharray="13.5 10.5 14.5 50"/>
<path d="M121.5,340.7 H168" stroke="#7f0000" stroke-width="6.8" stroke-dasharray="11.5 22 13 50"/>
<circle cx="144.4" cy="340.7" r="2.9" fill="#7f0000" stroke="none"/>
<path d="M115.7,382.2 H172" stroke="#008000" stroke-width="6.3" stroke-dasharray="12.2 31 12.2 50"/>
<circle cx="138.6" cy="382.2" r="2.8" fill="#008000" stroke="none"/><circle cx="148.2" cy="382.2" r="2.8" fill="#008000" stroke="none"/>
</g>
<g font-family="'Liberation Serif', serif" font-weight="bold" font-size="32.5" fill="#000">
<text x="84.80" y="21.30" text-anchor="end" textLength="15.50" lengthAdjust="spacingAndGlyphs">0</text>
<text x="84.80" y="101.08" text-anchor="end" textLength="43.00" lengthAdjust="spacingAndGlyphs">-10</text>
<text x="84.80" y="180.86" text-anchor="end" textLength="43.00" lengthAdjust="spacingAndGlyphs">-20</text>
<text x="84.80" y="260.64" text-anchor="end" textLength="43.00" lengthAdjust="spacingAndGlyphs">-30</text>
<text x="84.80" y="340.42" text-anchor="end" textLength="43.00" lengthAdjust="spacingAndGlyphs">-40</text>
<text x="84.80" y="420.20" text-anchor="end" textLength="43.00" lengthAdjust="spacingAndGlyphs">-50</text>
<text x="105.70" y="458.70" text-anchor="middle" textLength="16.00" lengthAdjust="spacingAndGlyphs">2</text>
<text x="199.40" y="458.70" text-anchor="middle" textLength="16.00" lengthAdjust="spacingAndGlyphs">3</text>
<text x="292.10" y="458.70" text-anchor="middle" textLength="16.00" lengthAdjust="spacingAndGlyphs">4</text>
<text x="384.80" y="458.70" text-anchor="middle" textLength="16.00" lengthAdjust="spacingAndGlyphs">5</text>
<text x="477.50" y="458.70" text-anchor="middle" textLength="16.00" lengthAdjust="spacingAndGlyphs">6</text>
<text x="570.20" y="458.70" text-anchor="middle" textLength="16.00" lengthAdjust="spacingAndGlyphs">7</text>
<text x="662.90" y="458.70" text-anchor="middle" textLength="16.00" lengthAdjust="spacingAndGlyphs">8</text>
<text x="274.00" y="507.75" text-anchor="start" textLength="223.00" lengthAdjust="spacingAndGlyphs">Frequency, GHz</text>
<text x="210.00" y="270.00" text-anchor="start" textLength="139.00" lengthAdjust="spacingAndGlyphs">Antenna 1</text>
<text x="212.50" y="309.00" text-anchor="start" textLength="139.00" lengthAdjust="spacingAndGlyphs">Antenna 2</text>
<text x="210.00" y="351.60" text-anchor="start" textLength="139.00" lengthAdjust="spacingAndGlyphs">Antenna 3</text>
<text x="203.50" y="393.50" text-anchor="start" textLength="245.50" lengthAdjust="spacingAndGlyphs">Proposed antenna</text>
<text transform="translate(22.9,378) scale(0.93,1) rotate(-90)" x="0" y="0" textLength="344" lengthAdjust="spacingAndGlyphs">Reflection coefficient, dB</text>
</g>
</svg>
</body></html>
